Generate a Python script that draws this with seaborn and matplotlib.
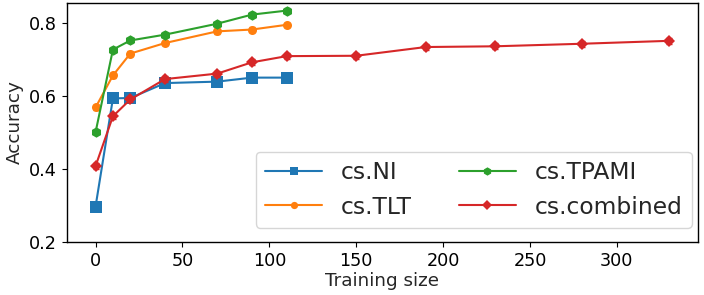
import numpy as np
import pandas as pd
import matplotlib
matplotlib.use('Agg')
import matplotlib.pyplot as plt
import seaborn as sns

# training sizes
sizes = [0, 10, 20, 40, 70, 90, 110]
sizes_comb = [0, 10, 20, 40, 70, 90, 110, 150, 190, 230, 280, 330]

# accuracies
acc_ni = [0.297, 0.594, 0.595, 0.636, 0.640, 0.651, 0.651]
acc_tlt = [0.569, 0.657, 0.717, 0.746, 0.778, 0.783, 0.796]
acc_tpami = [0.501, 0.728, 0.753, 0.769, 0.799, 0.824, 0.835]
acc_comb = [0.408, 0.545, 0.591, 0.647, 0.662, 0.693, 0.710, 0.711, 0.735, 0.737, 0.744, 0.752]

# small error bars
err_ni = [0.006, 0.006, 0.006, 0.006, 0.006, 0.006, 0.006]
err_tlt = [0.006, 0.006, 0.006, 0.006, 0.006, 0.006, 0.006]
err_tpami = [0.006, 0.006, 0.006, 0.006, 0.006, 0.006, 0.006]
err_comb = [0.008, 0.008, 0.008, 0.008, 0.008, 0.008, 0.008, 0.008, 0.008, 0.008, 0.008, 0.008]

labels = ['cs.NI', 'cs.TLT', 'cs.TPAMI', 'cs.combined']

sns.set_style('ticks')
plt.rcParams['font.family'] = ['DejaVu Sans']
colors = sns.color_palette('tab10', 4)

fig, ax = plt.subplots(figsize=(7.04, 2.95), dpi=100)
fig.subplots_adjust(left=0.095, right=0.991, bottom=0.180, top=0.990)

series = [
    (sizes, acc_ni, err_ni, 's', 8),
    (sizes, acc_tlt, err_tlt, 'o', 6.5),
    (sizes, acc_tpami, err_tpami, 'h', 7.5),
    (sizes_comb, acc_comb, err_comb, 'D', 6.5),
]

for (x, y, e, m, ms), lab, c in zip(series, labels, colors):
    sns.lineplot(x=x, y=y, marker=m, markersize=ms, markeredgewidth=0,
                 color=c, label=lab, linewidth=1.5, ax=ax)
    ax.errorbar(x, y, yerr=e, fmt='none', ecolor=c, elinewidth=1.2, capsize=2.5)

ax.set_ylim(0.2, 0.856)
ax.set_yticks([0.2, 0.4, 0.6, 0.8])
ax.set_xticks([0, 50, 100, 150, 200, 250, 300])
ax.tick_params(labelsize=12.7, colors='black', length=3.5, width=0.8)
ax.set_xlabel('Training size', fontsize=13.2, labelpad=2)
ax.set_ylabel('Accuracy', fontsize=13.2, labelpad=4)
for sp in ax.spines.values():
    sp.set_color('black')
    sp.set_linewidth(1.0)

ax.legend(ncol=2, loc='lower right', bbox_to_anchor=(0.9905, 0.0586), borderaxespad=0,
          fontsize=16.8, frameon=True, edgecolor='0.8', handlelength=2.45, markerscale=0.8)

fig.savefig('out.png', dpi=100)
